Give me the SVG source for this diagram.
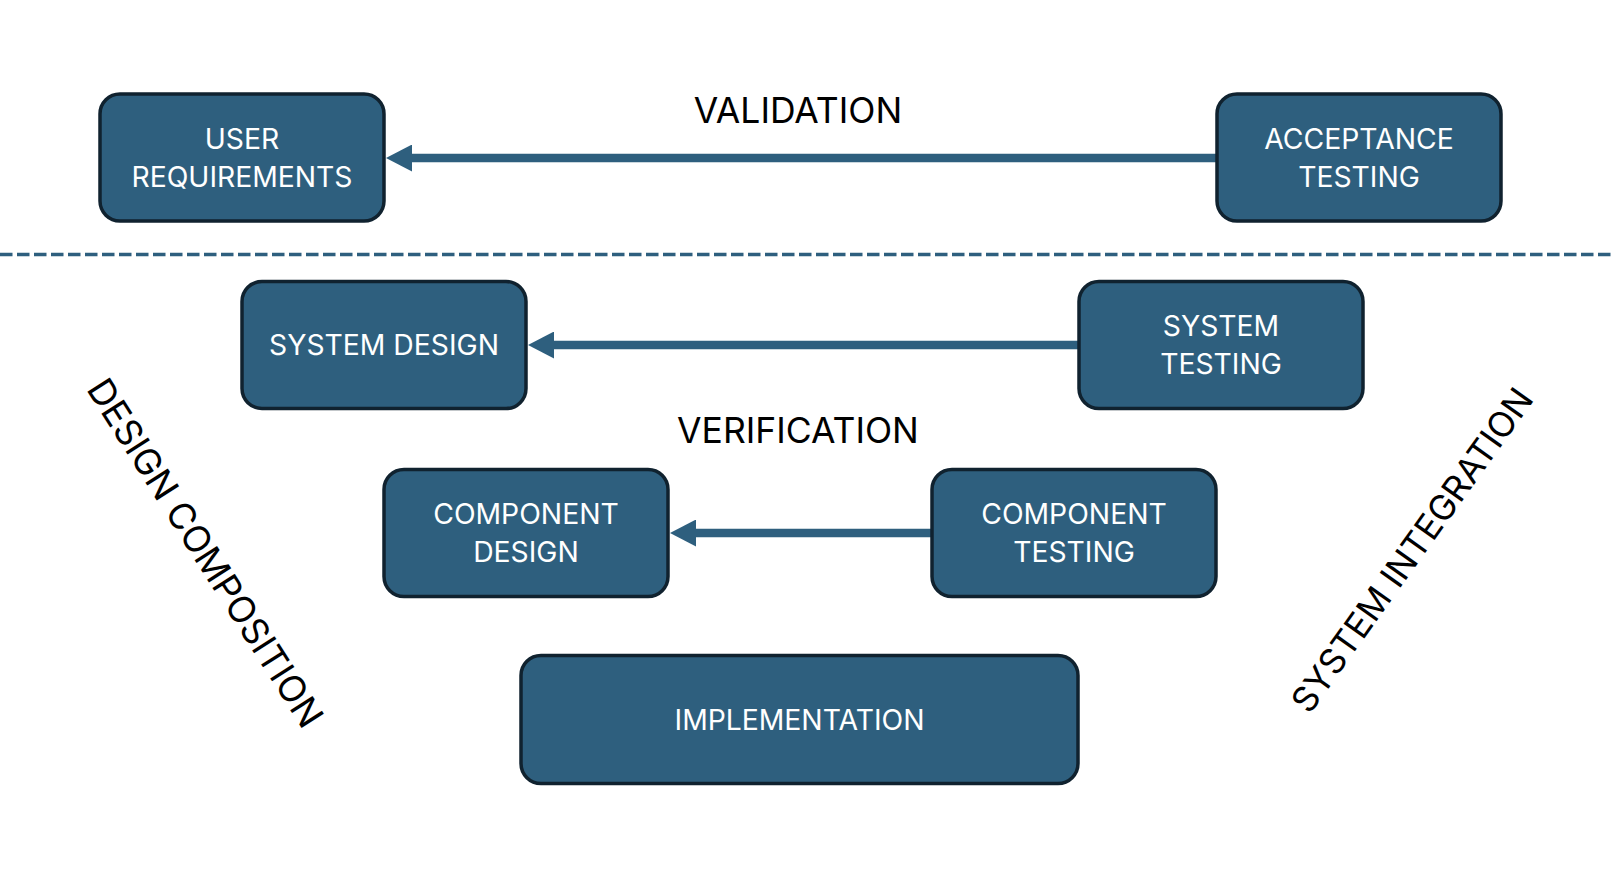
<svg xmlns="http://www.w3.org/2000/svg" width="1612" height="870" viewBox="0 0 1612 870">
<style>
.box{fill:#2e5f7e;stroke:#10222f;stroke-width:3.5}
.lbl{font-family:Inter,"Liberation Sans",sans-serif;font-size:28.3px;fill:#ffffff;text-anchor:middle}
.cap{font-family:Inter,"Liberation Sans",sans-serif;font-size:35.5px;fill:#000000;text-anchor:middle}
.conn{stroke:#2e5f7e;stroke-width:8.5;fill:none}
</style>
<defs>
<marker id="ah" markerUnits="userSpaceOnUse" markerWidth="26" markerHeight="27" viewBox="0 0 26 27" refX="0" refY="13.5" orient="auto">
<path d="M0,0 L26,13.5 L0,27 z" fill="#2e5f7e"/>
</marker>
</defs>
<rect width="1612" height="870" fill="#ffffff"/>
<line x1="0" y1="254.5" x2="1612" y2="254.5" stroke="#2e5f7e" stroke-width="3.5" stroke-dasharray="12.5 4.5"/>
<g id="connectors">
<line class="conn" x1="1217" y1="158" x2="412" y2="158" marker-end="url(#ah)"/>
<line class="conn" x1="1080" y1="345" x2="554" y2="345" marker-end="url(#ah)"/>
<line class="conn" x1="933" y1="533" x2="696" y2="533" marker-end="url(#ah)"/>
</g>
<g id="user-requirements">
<rect class="box" x="100" y="94" width="284" height="127" rx="20"/>
<text class="lbl" x="242" y="148.5">USER</text>
<text class="lbl" x="242" y="186.5">REQUIREMENTS</text>
</g>
<g id="acceptance-testing">
<rect class="box" x="1217" y="94" width="284" height="127" rx="20"/>
<text class="lbl" x="1359" y="148.5">ACCEPTANCE</text>
<text class="lbl" x="1359" y="186.5">TESTING</text>
</g>
<g id="system-design">
<rect class="box" x="242" y="281.5" width="284" height="127" rx="20"/>
<text class="lbl" x="384" y="355">SYSTEM DESIGN</text>
</g>
<g id="system-testing">
<rect class="box" x="1079" y="281.5" width="284" height="127" rx="20"/>
<text class="lbl" x="1221" y="336">SYSTEM</text>
<text class="lbl" x="1221" y="374">TESTING</text>
</g>
<g id="component-design">
<rect class="box" x="384" y="469.5" width="284" height="127" rx="20"/>
<text class="lbl" x="526" y="524">COMPONENT</text>
<text class="lbl" x="526" y="562">DESIGN</text>
</g>
<g id="component-testing">
<rect class="box" x="932" y="469.5" width="284" height="127" rx="20"/>
<text class="lbl" x="1074" y="524">COMPONENT</text>
<text class="lbl" x="1074" y="562">TESTING</text>
</g>
<g id="implementation">
<rect class="box" x="521" y="655.5" width="557" height="128" rx="20"/>
<text class="lbl" x="799.5" y="729.5">IMPLEMENTATION</text>
</g>
<g id="labels">
<text class="cap" x="798" y="122.5">VALIDATION</text>
<text class="cap" x="798" y="442.5">VERIFICATION</text>
<text class="cap" transform="translate(205,553) rotate(57.5)" x="0" y="12.5" style="font-size:36.3px">DESIGN COMPOSITION</text>
<text class="cap" transform="translate(1412,550) rotate(-54.5)" x="0" y="12.5" style="font-size:35px">SYSTEM INTEGRATION</text>
</g>
</svg>
